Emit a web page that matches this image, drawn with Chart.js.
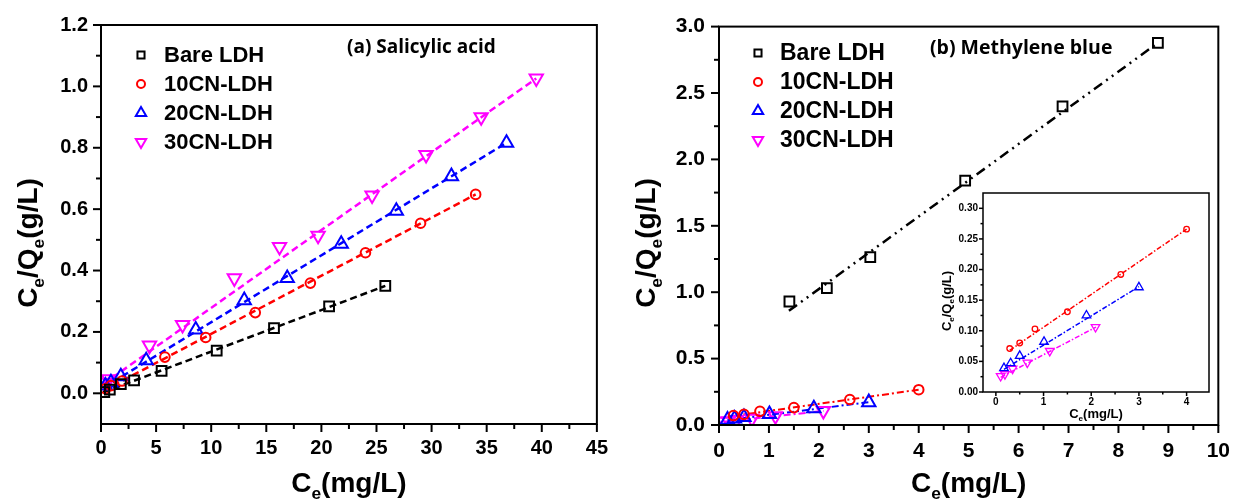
<!DOCTYPE html>
<html>
<head>
<meta charset="utf-8">
<script src="https://cdn.jsdelivr.net/npm/chart.js@4.4.1/dist/chart.umd.min.js"></script>
<style>
body { margin: 0; background: #fff; width: 1244px; height: 500px; overflow: hidden; position: relative; }
canvas { position: absolute; }
</style>
</head>
<body>
<canvas id="chartA" width="620" height="500" style="left:0;top:0"></canvas>
<canvas id="chartB" width="624" height="500" style="left:620px;top:0"></canvas>
<canvas id="chartInset" width="285" height="240" style="left:935px;top:182px"></canvas>
<script>
// ---- (a) Salicylic acid ----
const leftXTicks = [0, 5, 10, 15, 20, 25, 30, 35, 40, 45];
const leftYTicks = [0, 0.2, 0.4, 0.6, 0.8, 1.0, 1.2];

const leftBareX = [0.3, 0.8, 1.8, 3.0, 5.5, 10.5, 15.7, 20.7, 25.8];
const leftBareY = [0.004, 0.012, 0.03, 0.042, 0.073, 0.139, 0.212, 0.283, 0.350];
const left10X = [0.4, 0.9, 1.9, 5.8, 9.5, 14.0, 19.0, 24.0, 29.0, 34.0];
const left10Y = [0.015, 0.025, 0.04, 0.118, 0.182, 0.263, 0.359, 0.458, 0.554, 0.648];
const left20X = [0.4, 0.9, 1.8, 4.1, 8.6, 13.0, 16.9, 21.8, 26.8, 31.8, 36.8];
const left20Y = [0.025, 0.035, 0.055, 0.107, 0.207, 0.303, 0.375, 0.487, 0.594, 0.707, 0.816];
const left30X = [0.35, 0.7, 4.4, 7.4, 12.1, 16.2, 19.7, 24.6, 29.5, 34.5, 39.5];
const left30Y = [0.035, 0.046, 0.156, 0.223, 0.375, 0.477, 0.514, 0.645, 0.777, 0.90, 1.026];

// fitted lines (end points)
const leftBareFitX = [0.2, 25.8], leftBareFitY = [0.003, 0.350];
const left10FitX = [0.2, 34.0], left10FitY = [0.008, 0.648];
const left20FitX = [0.2, 36.8], left20FitY = [0.018, 0.816];
const left30FitX = [0.2, 39.5], left30FitY = [0.030, 1.026];

// ---- (b) Methylene blue ----
const rightXTicks = [0, 1, 2, 3, 4, 5, 6, 7, 8, 9, 10];
const rightYTicks = [0, 0.5, 1.0, 1.5, 2.0, 2.5, 3.0];
const insetXTicks = [0, 1, 2, 3, 4];
const insetYTicks = [0, 0.05, 0.10, 0.15, 0.20, 0.25, 0.30];

const rightBareX = [1.41, 2.16, 3.03, 4.93, 6.88, 8.79];
const rightBareY = [0.93, 1.03, 1.265, 1.84, 2.40, 2.878];
const right10X = [0.29, 0.5, 0.82, 1.5, 2.62, 4.0];
const right10Y = [0.071, 0.080, 0.103, 0.131, 0.192, 0.266];
const right20X = [0.17, 0.31, 0.5, 1.01, 1.9, 3.0];
const right20Y = [0.039, 0.047, 0.059, 0.082, 0.125, 0.171];
const right30X = [0.1, 0.19, 0.35, 0.66, 1.13, 2.09];
const right30Y = [0.026, 0.029, 0.038, 0.048, 0.067, 0.106];

const rightBareFitX = [1.4, 8.8], rightBareFitY = [0.86, 2.88];
const right10FitX = [0.29, 4.0], right10FitY = [0.068, 0.266];
const right20FitX = [0.17, 3.0], right20FitY = [0.037, 0.172];
const right30FitX = [0.1, 2.1], right30FitY = [0.024, 0.106];

const seriesNames = ['Bare LDH', '10CN-LDH', '20CN-LDH', '30CN-LDH'];
const colors = ['#000000', '#ff0000', '#0000ff', '#ff00ff'];

const FONT = '"Liberation Sans", Arial, sans-serif';

function pts(xs, ys) {
    return xs.map((x, i) => ({ x: x, y: ys[i] }));
}

function markers(i, xs, ys, r, bw) {
    const styles = ['rect', 'circle', 'triangle', 'triangle'];
    const sizeMul = [1.15, 0.8, 1.1, 1.1];
    return {
        label: seriesNames[i],
        inLegend: true,
        data: pts(xs, ys),
        showLine: false,
        pointStyle: styles[i],
        pointRotation: i == 3 ? 180 : 0,
        pointRadius: r * sizeMul[i],
        pointBorderWidth: bw,
        pointBorderColor: colors[i],
        pointBackgroundColor: 'rgba(0,0,0,0)',
        order: 1
    };
}

function fitLine(i, xs, ys, dash, w) {
    return {
        data: pts(xs, ys),
        showLine: true,
        pointRadius: 0,
        borderColor: colors[i],
        borderWidth: w,
        borderDash: dash,
        order: 2
    };
}

// draw text with subscript parts, centred at (x, y)
function drawParts(ctx, parts, x, y, size) {
    const sub = size * 0.62;
    let w = 0;
    parts.forEach(p => {
        ctx.font = 'bold ' + (p[1] ? sub : size) + 'px ' + FONT;
        w += ctx.measureText(p[0]).width;
    });
    let cx = x - w / 2;
    ctx.textAlign = 'left';
    ctx.textBaseline = 'alphabetic';
    parts.forEach(p => {
        ctx.font = 'bold ' + (p[1] ? sub : size) + 'px ' + FONT;
        ctx.fillText(p[0], cx, y + size * 0.36 + (p[1] ? size * 0.24 : 0));
        cx += ctx.measureText(p[0]).width;
    });
}

const yTitleParts = [['C', 0], ['e', 1], ['/Q', 0], ['e', 1], ['(g/L)', 0]];
const xTitleParts = [['C', 0], ['e', 1], ['(mg/L)', 0]];

function axisTicks(ctx, scale, area, horizontal, major, minor) {
    const vals = scale.ticks.map(t => t.value);
    const mins = [];
    for (let i = 0; i < vals.length - 1; i++) mins.push((vals[i] + vals[i + 1]) / 2);
    const step = vals[1] - vals[0];
    if (vals[0] - step / 2 > scale.min) mins.push(vals[0] - step / 2);
    if (vals[vals.length - 1] + step / 2 < scale.max) mins.push(vals[vals.length - 1] + step / 2);
    const draw = (v, len) => {
        const p = scale.getPixelForValue(v);
        ctx.beginPath();
        if (horizontal) {
            ctx.moveTo(p, area.bottom);
            ctx.lineTo(p, area.bottom + len);
        } else {
            ctx.moveTo(area.left, p);
            ctx.lineTo(area.left - len, p);
        }
        ctx.stroke();
    };
    vals.forEach(v => draw(v, major));
    mins.forEach(v => draw(v, minor));
}

const panelDecor = {
    id: 'panelDecor',
    beforeDatasetsDraw(chart, args, o) {
        if (o.whiteArea) {
            const a = chart.chartArea;
            chart.ctx.save();
            chart.ctx.fillStyle = '#fff';
            chart.ctx.fillRect(a.left, a.top, a.right - a.left, a.bottom - a.top);
            chart.ctx.restore();
        }
    },
    afterDraw(chart, args, o) {
        const ctx = chart.ctx;
        const a = chart.chartArea;
        ctx.save();
        ctx.strokeStyle = '#000';
        ctx.lineWidth = o.lw;
        ctx.strokeRect(a.left, a.top, a.right - a.left, a.bottom - a.top);
        axisTicks(ctx, chart.scales.x, a, true, o.major, o.minor);
        axisTicks(ctx, chart.scales.y, a, false, o.major, o.minor);

        ctx.fillStyle = '#000';
        // axis titles
        drawParts(ctx, xTitleParts, (a.left + a.right) / 2, o.xTitleY, o.titleSize);
        ctx.save();
        ctx.translate(o.yTitleX, o.yTitleY);
        ctx.rotate(-Math.PI / 2);
        drawParts(ctx, yTitleParts, 0, 0, o.titleSize);
        ctx.restore();

        // panel label
        if (o.label) {
            ctx.font = 'bold ' + o.labelSize + 'px "Open Sans", Lato, sans-serif';
            ctx.textAlign = 'left';
            ctx.textBaseline = 'middle';
            ctx.fillText(o.label, o.labelX, o.labelY);
        }

        // legend
        if (o.legend) {
            const lg = o.legend;
            let row = 0;
            chart.data.datasets.forEach(ds => {
                if (!ds.inLegend) return;
                const y = lg.rows[row++];
                ctx.strokeStyle = ds.pointBorderColor;
                ctx.fillStyle = 'rgba(0,0,0,0)';
                Chart.helpers.drawPoint(ctx, {
                    pointStyle: ds.pointStyle,
                    rotation: ds.pointRotation,
                    radius: ds.pointStyle == 'triangle' ? 6 : ds.pointStyle == 'rect' ? 5 : 4,
                    borderWidth: 2
                }, lg.markerX, y);
                ctx.fillStyle = '#000';
                ctx.font = 'bold ' + lg.size + 'px ' + FONT;
                ctx.textAlign = 'left';
                ctx.textBaseline = 'middle';
                ctx.fillText(ds.label, lg.textX, y + 1);
            });
        }
        ctx.restore();
    }
};

function axis(min, max, tickVals, fmt, fontSize, pad, fitSize, horizontal) {
    return {
        type: 'linear',
        min: min,
        max: max,
        afterBuildTicks: s => { s.ticks = tickVals.map(v => ({ value: v })); },
        afterFit: s => { if (horizontal) s.height = fitSize; else s.width = fitSize; },
        grid: { display: false, drawTicks: false },
        border: { display: false },
        ticks: {
            color: '#000',
            font: { family: FONT, size: fontSize, weight: 'bold' },
            padding: pad,
            maxRotation: 0,
            autoSkip: false,
            callback: fmt
        }
    };
}

Chart.defaults.animation = false;

// ---- left chart ----
new Chart(document.getElementById('chartA'), {
    type: 'scatter',
    data: {
        datasets: [
            markers(0, leftBareX, leftBareY, 6, 2),
            markers(1, left10X, left10Y, 6, 2),
            markers(2, left20X, left20Y, 7, 2),
            markers(3, left30X, left30Y, 7, 2),
            fitLine(0, leftBareFitX, leftBareFitY, [7, 4], 2.5),
            fitLine(1, left10FitX, left10FitY, [7, 4], 2.5),
            fitLine(2, left20FitX, left20FitY, [7, 4], 2.5),
            fitLine(3, left30FitX, left30FitY, [7, 4], 2.5)
        ]
    },
    options: {
        responsive: false,
        devicePixelRatio: 1,
        layout: { padding: { left: 0, top: 20, right: 15, bottom: 0 } },
        scales: {
            x: axis(0, 45, leftXTicks, v => v, 20, 12, 76, true),
            y: axis(-0.1, 1.2, leftYTicks, v => v.toFixed(1), 20, 13, 101, false)
        },
        plugins: {
            legend: { display: false },
            tooltip: { enabled: false },
            panelDecor: {
                lw: 2, major: 8, minor: 5,
                titleSize: 28, xTitleY: 482, yTitleX: 27, yTitleY: 243,
                label: '(a) Salicylic acid', labelSize: 19, labelX: 347, labelY: 48,
                legend: { markerX: 141, textX: 164, rows: [55, 84, 113, 142], size: 22 }
            }
        }
    },
    plugins: [panelDecor]
});

// ---- right chart ----
new Chart(document.getElementById('chartB'), {
    type: 'scatter',
    data: {
        datasets: [
            markers(0, rightBareX, rightBareY, 6, 2),
            markers(1, right10X, right10Y, 6, 2),
            markers(2, right20X, right20Y, 7, 2),
            markers(3, right30X, right30Y, 7, 2),
            fitLine(0, rightBareFitX, rightBareFitY, [10, 5, 2, 5, 2, 5], 2.5),
            fitLine(1, right10FitX, right10FitY, [7, 3, 2, 3], 2),
            fitLine(2, right20FitX, right20FitY, [7, 3, 2, 3], 2),
            fitLine(3, right30FitX, right30FitY, [7, 3, 2, 3], 2)
        ]
    },
    options: {
        responsive: false,
        devicePixelRatio: 1,
        layout: { padding: { left: 0, top: 22, right: 21, bottom: 0 } },
        scales: {
            x: axis(0, 10, rightXTicks, v => v, 21, 14, 75, true),
            y: axis(0, 3.0, rightYTicks, v => v.toFixed(1), 21, 14, 99, false)
        },
        plugins: {
            legend: { display: false },
            tooltip: { enabled: false },
            panelDecor: {
                lw: 2, major: 8, minor: 5,
                titleSize: 28, xTitleY: 482, yTitleX: 25, yTitleY: 243,
                label: '(b) Methylene blue', labelSize: 19.5, labelX: 310, labelY: 48,
                legend: { markerX: 138, textX: 160, rows: [53, 82, 111, 140], size: 23 }
            }
        }
    },
    plugins: [panelDecor]
});

// ---- inset ----
new Chart(document.getElementById('chartInset'), {
    type: 'scatter',
    data: {
        datasets: [
            markers(1, right10X, right10Y, 3.5, 1.3),
            markers(2, right20X, right20Y, 4.5, 1.3),
            markers(3, right30X, right30Y, 4.5, 1.3),
            fitLine(1, right10FitX, right10FitY, [5, 2, 1.5, 2], 1.5),
            fitLine(2, right20FitX, right20FitY, [5, 2, 1.5, 2], 1.5),
            fitLine(3, right30FitX, right30FitY, [5, 2, 1.5, 2], 1.5)
        ]
    },
    options: {
        responsive: false,
        devicePixelRatio: 1,
        layout: { padding: { left: 0, top: 3, right: 11, bottom: 0 } },
        scales: {
            x: axis(-0.27, 4.47, insetXTicks, v => v, 10, 4, 30, true),
            y: axis(0, 0.325, insetYTicks, v => v.toFixed(2), 10, 5, 48, false)
        },
        plugins: {
            legend: { display: false },
            tooltip: { enabled: false },
            panelDecor: {
                lw: 1.5, major: 4, minor: 2.5, whiteArea: true,
                titleSize: 13, xTitleY: 231, yTitleX: 11, yTitleY: 119
            }
        }
    },
    plugins: [panelDecor]
});
</script>
</body>
</html>
